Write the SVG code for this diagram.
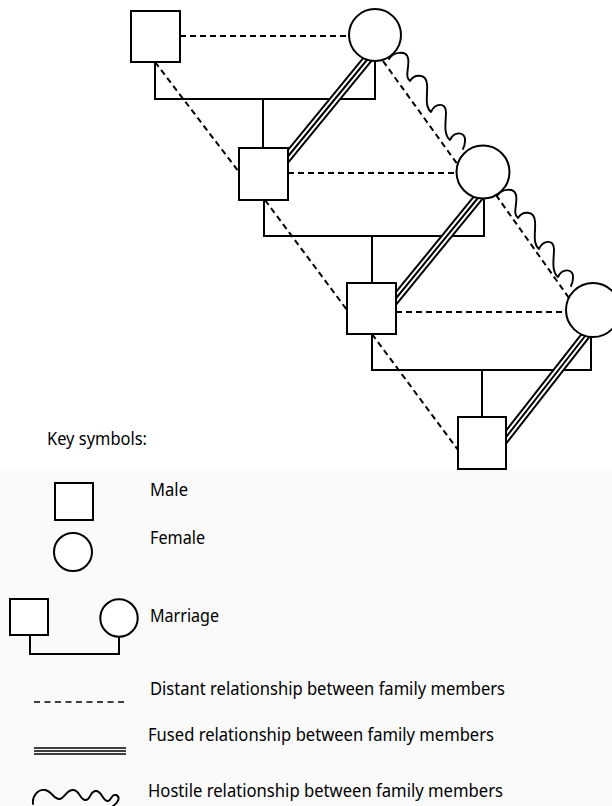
<svg xmlns="http://www.w3.org/2000/svg" width="612" height="806" viewBox="0 0 612 806">
<style>
.node{fill:#fff;stroke:#000;stroke-width:2}
.dist{fill:none;stroke:#000;stroke-width:2;stroke-dasharray:6 4}
.mar{fill:none;stroke:#000;stroke-width:2}
.hos{fill:none;stroke:#000;stroke-width:1.9;stroke-linejoin:round;stroke-linecap:round}
.f1{stroke:#000;stroke-width:10}
.f2{stroke:#fff;stroke-width:6}
.f3{stroke:#000;stroke-width:2}
.lbl{font-family:"Noto Sans","Liberation Sans",sans-serif;font-size:18.5px;fill:#000}
</style>
<defs>
<path id="wave" d="M389,59 C393,52 406,50 408,58 C410,66 404,77 410,81 C414,74 426,73 427,84 C428,94 424,106 431,112 C435,103 446,102 446,112 C446,122 443,134 450,140 C454,131 466,131 465,141 C465,144 464,147 463,149"/>
</defs>
<rect x="0" y="469" width="612" height="337" fill="#fafafa"/>
<g id="connectors">
<line class="dist" x1="180" y1="36" x2="350" y2="36"/>
<line class="dist" x1="288" y1="173" x2="458" y2="173"/>
<line class="dist" x1="396" y1="312" x2="567" y2="312"/>
<line class="dist" x1="155" y1="62" x2="239" y2="172"/>
<line class="dist" x1="265" y1="200" x2="347" y2="310"/>
<line class="dist" x1="372" y1="334" x2="458" y2="450"/>
<line class="dist" x1="383" y1="61" x2="458" y2="165"/>
<line class="dist" x1="496" y1="195" x2="569" y2="298"/>
<path class="mar" d="M155,62 V99 H375 V61 M263,99 V148"/>
<path class="mar" d="M264,200 V236 H484 V198 M372,236 V282"/>
<path class="mar" d="M372,334 V370 H591 V336 M482,370 V417"/>
<g id="fused1"><line class="f1" x1="371" y1="55" x2="285" y2="160"/><line class="f2" x1="371" y1="55" x2="285" y2="160"/><line class="f3" x1="371" y1="55" x2="285" y2="160"/></g>
<g id="fused2"><line class="f1" x1="482" y1="193" x2="393" y2="302"/><line class="f2" x1="482" y1="193" x2="393" y2="302"/><line class="f3" x1="482" y1="193" x2="393" y2="302"/></g>
<g id="fused3"><line class="f1" x1="589" y1="331" x2="503" y2="441"/><line class="f2" x1="589" y1="331" x2="503" y2="441"/><line class="f3" x1="589" y1="331" x2="503" y2="441"/></g>
<use href="#wave" class="hos"/>
<use href="#wave" class="hos" transform="translate(108,137)"/>
</g>
<g id="m1"><rect class="node" x="131" y="11" width="49" height="51"/></g>
<g id="f1"><circle class="node" cx="375" cy="35" r="26"/></g>
<g id="m2"><rect class="node" x="239" y="148" width="49" height="52"/></g>
<g id="f2"><circle class="node" cx="483" cy="172" r="26.5"/></g>
<g id="m3"><rect class="node" x="347" y="283" width="49" height="51"/></g>
<g id="f3"><circle class="node" cx="593" cy="310" r="27"/></g>
<g id="m4"><rect class="node" x="458" y="417" width="48" height="52"/></g>
<g id="legend">
<text class="lbl" x="47" y="445" textLength="100" lengthAdjust="spacingAndGlyphs">Key symbols:</text>
<rect class="node" x="55" y="483" width="38" height="37"/>
<text class="lbl" x="150" y="496" textLength="38" lengthAdjust="spacingAndGlyphs">Male</text>
<circle class="node" cx="73" cy="552" r="19"/>
<text class="lbl" x="150" y="544" textLength="55" lengthAdjust="spacingAndGlyphs">Female</text>
<path class="mar" d="M30,635 V654 H119 V637"/>
<rect class="node" x="10" y="599" width="38" height="36"/>
<circle class="node" cx="119" cy="618" r="18.7"/>
<text class="lbl" x="150" y="622" textLength="69" lengthAdjust="spacingAndGlyphs">Marriage</text>
<line x1="34" y1="702" x2="126" y2="702" stroke="#000" stroke-width="1.5" stroke-dasharray="6 4.5"/>
<text class="lbl" x="150" y="695" textLength="355" lengthAdjust="spacingAndGlyphs">Distant relationship between family members</text>
<g stroke="#000" stroke-width="1.3"><line x1="34" y1="748" x2="126" y2="748"/><line x1="34" y1="751" x2="126" y2="751"/><line x1="34" y1="754" x2="126" y2="754"/></g>
<text class="lbl" x="148" y="741" textLength="346" lengthAdjust="spacingAndGlyphs">Fused relationship between family members</text>
<path class="hos" stroke-width="2.2" d="M33,804 C32,796 38,789 45,790 C52,791 54,800 60,799 C65,798 66,790 73,790 C80,790 80,801 86,800 C91,799 90,791 96,791 C102,791 103,802 108,801 C112,800 111,794 116,795 C121,797 118,803 113,806"/>
<text class="lbl" x="148" y="797" textLength="355" lengthAdjust="spacingAndGlyphs">Hostile relationship between family members</text>
</g>
</svg>
